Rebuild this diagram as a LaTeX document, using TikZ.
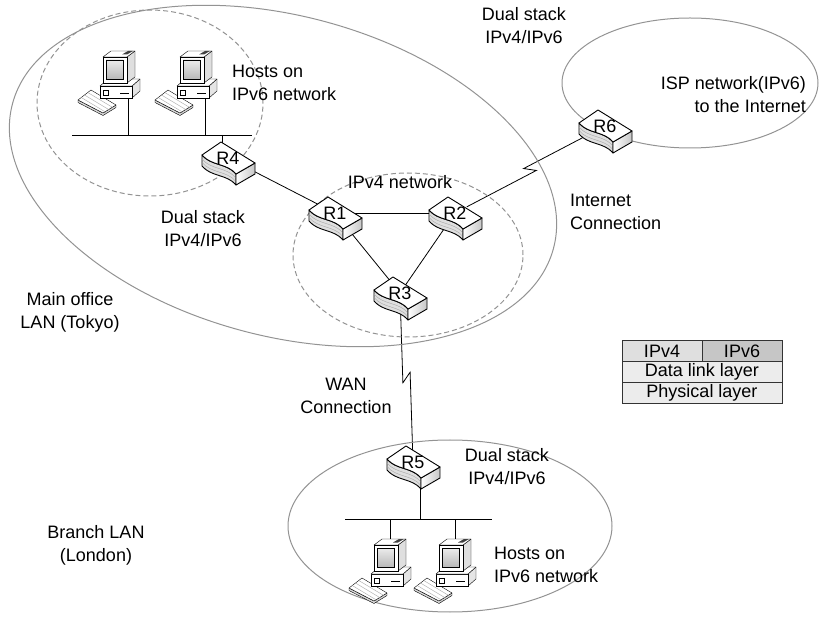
\documentclass[tikz,border=0pt]{standalone}
\usepackage{fontspec}
\setmainfont{Liberation Sans}
\usetikzlibrary{positioning,calc,backgrounds}

\tikzset{
  txt/.style={font=\fontsize{18}{23}\selectfont, align=center, inner sep=0pt},
  zone/.style={draw=gray!85, line width=1pt},
  subnet/.style={draw=gray!85, line width=1pt, dash pattern=on 5pt off 3pt},
  link/.style={draw=black, line width=.8pt},
  layer/.style={draw=black!80, line width=.8pt, minimum height=21pt, inner sep=0pt, outer sep=0pt,
    font=\fontsize{18}{21}\selectfont},
  % serial line with the little zigzag in the middle
  wan/.style={to path={let \p1=(\tikztostart), \p2=(\tikztotarget),
      \n1={atan2(\y2-\y1,\x2-\x1)}, \n2={\n1+90} in
      -- ($(\p1)!.5!(\p2)+(\n1:5pt)+(\n2:-4pt)$)
      -- ($(\p1)!.5!(\p2)+(\n1:-5pt)+(\n2:4pt)$)
      -- (\tikztotarget)}},
  router/.pic={
    % wavy front side
    \draw[fill=gray!25, line width=.9pt, line join=round]
      (-26,-3) .. controls (-17,8) and (-1,5) .. (8,16) -- (8,27)
      .. controls (-1,16) and (-17,19) .. (-26,8) -- cycle;
    \draw[gray!70] (-26,1) .. controls (-17,12) and (-1,9) .. (8,20);
    \draw[gray!70] (-26,4.5) .. controls (-17,15.5) and (-1,12.5) .. (8,23.5);
    % right side
    \draw[left color=white, right color=gray!45, line width=.9pt, line join=round]
      (8,16) -- (27,5) -- (27,16) -- (8,27) -- cycle;
    % top
    \draw[fill=white, line width=.9pt, line join=round]
      (-26,-3) -- (-7,-16) -- (27,5) -- (8,16)
      .. controls (-1,5) and (-17,8) .. (-26,-3) -- cycle;
  },
  host/.pic={
    % keyboard
    \draw[fill=gray!30, line join=round] (-50,2) -- (-50,4.5) -- (-25,17.5) -- (-12,9.5)
      -- (-12,7) -- (-25,15) -- cycle;
    \draw[fill=white, line join=round] (-50,2) -- (-37,-8) -- (-12,7) -- (-25,15) -- cycle;
    \draw[gray!70] (-40.25,-5.5) -- ++(25,15) (-43.5,-3) -- ++(25,15) (-46.75,-0.5) -- ++(25,15);
    % case
    \draw[fill=gray!20, line join=round] (4,0) -- (12,-7) -- (12,-19) -- (4,-12) -- cycle;
    \draw[fill=white] (-28,-12) rectangle (4,0);
    \draw[fill=white, line join=round] (-28,-12) -- (-20,-19) -- (12,-19) -- (4,-12) -- cycle;
    \draw (-25,-8) rectangle (-20,-3);
    \draw (-8,-5) -- (1,-5);
    % monitor
    \draw[fill=gray!25, line join=round] (-1,-15) -- (7,-21) -- (7,-47) -- (-1,-41) -- cycle;
    \draw[fill=white, line join=round] (-25,-41) -- (-17,-47) -- (7,-47) -- (-1,-41) -- cycle;
    \fill[black!75] (-6,-43.5) -- (0,-47) -- (5,-47) -- (-1,-43.5) -- cycle;
    \draw[fill=white] (-25,-41) rectangle (-1,-15);
    \draw[top color=gray!15, bottom color=gray!55] (-22,-38) rectangle (-5,-19);
    \coordinate (-port) at (0,0);
    \coordinate (-top) at (-9,-44);
  }
}

\begin{document}
\begin{tikzpicture}[x=1pt,y=-1pt]
\useasboundingbox (0,0) rectangle (820,620);

% LANs and subnets
\draw[zone, rotate around={-15:(283,176)}] (283,176) ellipse [x radius=280pt, y radius=160pt];
\draw[zone] (690,83) ellipse [x radius=128pt, y radius=65pt];
\draw[zone] (450,526) ellipse [x radius=162pt, y radius=86pt];
\draw[subnet] (150,103) ellipse [x radius=113pt, y radius=93pt];
\draw[subnet] (408,255) ellipse [x radius=115pt, y radius=82pt];

% routers
\foreach \r/\x/\y in {R1/335/213, R2/455/213, R3/400/293, R4/228/158, R5/413/462, R6/605/126}{
  \pic at (\x,\y) {router};
  \node[txt] (\r) at (\x,\y) {\r};
}

% hosts
\pic (hA1) at (128,98) {host};
\pic (hA2) at (205,98) {host};
\pic (hB1) at (399,586) {host};
\pic (hB2) at (464,586) {host};

\coordinate (busAL) at (72,135);
\coordinate (busAR) at (252,135);
\coordinate (dropA) at (222,135);
\coordinate (busBL) at (345,519);
\coordinate (busBR) at (492,519);
\coordinate (dropB) at (420,519);

\begin{pgfonlayer}{background}
  \draw[link] (busAL) -- (busAR);
  \draw[link] (hA1-port) -- (hA1-port |- busAL);
  \draw[link] (hA2-port) -- (hA2-port |- busAL);
  \draw[link] (dropA) -- (dropA |- R4);
  \draw[link] (R4) -- (R1);
  \draw[link] (R1) -- (R2);
  \draw[link] (R1) -- (R3);
  \draw[link] (R2) -- (R3);
  \draw[link] (R2) to[wan] (R6);
  \draw[link] (R3) to[wan] (R5);
  \draw[link] (busBL) -- (busBR);
  \draw[link] (dropB) -- (dropB |- R5);
  \draw[link] (hB1-top |- busBL) -- (hB1-top);
  \draw[link] (hB2-top |- busBL) -- (hB2-top);
\end{pgfonlayer}

% labels
\node[txt, anchor=west, align=left] (hostsA) at (232,83) {Hosts on\\IPv6 network};
\node[txt] (dualA) at (203,229) {Dual stack\\IPv4/IPv6};
\node[txt] (tokyo) at (70,312) {Main office\\LAN (Tokyo)};
\node[txt] (v4net) at (400,182) {IPv4 network};
\node[txt] (dualB) at (524,26) {Dual stack\\IPv4/IPv6};
\node[txt, anchor=east, align=right] (isp) at (806,95) {ISP network(IPv6)\\to the Internet};
\node[txt, anchor=west, align=left] (inet) at (570,212) {Internet\\Connection};
\node[txt] (wanlbl) at (346,396) {WAN\\Connection};
\node[txt] (dualC) at (507,467) {Dual stack\\IPv4/IPv6};
\node[txt] (london) at (96,545) {Branch LAN\\(London)};
\node[txt, anchor=west, align=left] (hostsB) at (494,565) {Hosts on\\IPv6 network};

% protocol stack
\node[layer, minimum width=80pt, fill=gray!25] (v4) at (662,351) {IPv4};
\node[layer, minimum width=80pt, fill=gray!45, right=0pt of v4] (v6) {IPv6};
\node[layer, minimum width=160pt, fill=gray!15, below=0pt of v4.south east] (dll) {Data link layer};
\node[layer, minimum width=160pt, fill=gray!15, below=0pt of dll] (phy) {Physical layer};

\end{tikzpicture}
\end{document}
